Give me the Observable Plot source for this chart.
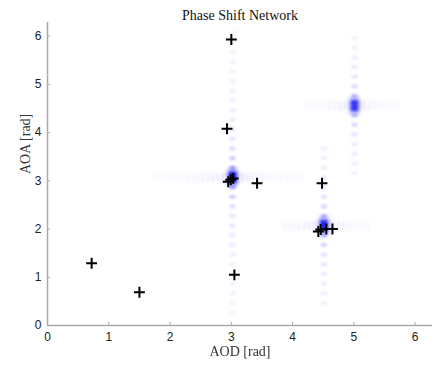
<!DOCTYPE html>
<html>
<head>
<meta charset="utf-8">
<script src="https://cdn.jsdelivr.net/npm/d3@7"></script>
<script src="https://cdn.jsdelivr.net/npm/@observablehq/plot@0.6"></script>
<style>
  html, body { margin: 0; padding: 0; background: #fff; }
  #chart { width: 434px; height: 365px; }
</style>
</head>
<body>
<div id="chart"></div>
<script>
// ---- data ----
const title = "Phase Shift Network";
const xLabel = "AOD [rad]";
const yLabel = "AOA [rad]";
const axisMax = 6.2832;
const xTicks = [0, 1, 2, 3, 4, 5, 6];
const yTicks = [0, 1, 2, 3, 4, 5, 6];

// estimated path markers (+)
const markerAOD = [3.00, 2.93, 2.95, 2.99, 3.03, 3.42, 4.48, 4.42, 4.46, 4.55, 4.65, 0.72, 1.50, 3.05];
const markerAOA = [5.93, 4.08, 2.98, 3.02, 3.05, 2.95, 2.95, 1.95, 1.99, 2.00, 2.00, 1.29, 0.69, 1.05];

// spectrum peaks (heat map main lobes)
const peakAOD = [3.02, 4.51, 5.01];
const peakAOA = [3.07, 2.07, 4.56];
const peakGain = [1.0, 0.85, 0.75];
// visible extent of the side-lobe streaks of each peak
const streakAODmin = [1.50, 3.85, 4.20];
const streakAODmax = [4.15, 5.25, 5.80];
const streakAOAmin = [0.10, 0.30, 3.00];
const streakAOAmax = [6.25, 3.85, 6.10];
// side lobes along AOA (offset from peak, relative level)
const lobeOffsetAOA = [0.20, 0.40, 0.60, 0.80, 1.00, 1.20, 1.40, 1.60, 1.80, 2.00, 2.20, 2.40, 2.60, 2.80, 3.00, 3.20];
const lobeLevelAOA  = [0.45, 0.27, 0.19, 0.15, 0.13, 0.11, 0.10, 0.095, 0.09, 0.085, 0.08, 0.07, 0.065, 0.06, 0.055, 0.05];
// side lobes along AOD
const lobeOffsetAOD = [0.08, 0.16, 0.24, 0.32, 0.40, 0.48, 0.56, 0.64, 0.72, 0.80, 0.88, 0.96, 1.04, 1.12, 1.20, 1.28];
const lobeLevelAOD  = [0.28, 0.20, 0.15, 0.12, 0.10, 0.09, 0.08, 0.075, 0.07, 0.065, 0.06, 0.055, 0.05, 0.045, 0.04, 0.035];

// ---- tables built from the arrays ----
const markers = markerAOD.map((x, i) => ({x, y: markerAOA[i]}));
const peaks = peakAOD.map((x, i) => ({x, y: peakAOA[i], g: peakGain[i]}));
const vLobes = [], hLobes = [];
peaks.forEach((p, i) => {
  lobeOffsetAOA.forEach((o, j) => {
    for (const s of [-1, 1]) {
      const y = p.y + s * o;
      if (y >= streakAOAmin[i] && y <= streakAOAmax[i]) vLobes.push({x: p.x, y, level: lobeLevelAOA[j] * p.g});
    }
  });
  lobeOffsetAOD.forEach((o, j) => {
    for (const s of [-1, 1]) {
      const x = p.x + s * o;
      if (x >= streakAODmin[i] && x <= streakAODmax[i]) hLobes.push({x, y: p.y, level: lobeLevelAOD[j] * p.g});
    }
  });
});

// ---- symbols ----
const vLobeSym = {draw(c) { c.rect(-2.8, -1.7, 5.6, 3.4); }};
const hLobeSym = {draw(c) { c.rect(-0.9, -4.5, 1.8, 9); }};
const haloSym  = {draw(c) { c.rect(-5, -8, 10, 16); }};
const coreSym  = {draw(c) { c.rect(-3.5, -5.5, 7, 11); }};

const serif = "'Liberation Serif', 'DejaVu Serif', serif";
const sans = "'Liberation Sans', Arial, sans-serif";
const blue = "#2020ff";

const chart = Plot.plot({
  width: 434,
  height: 365,
  marginTop: 22,
  marginRight: 2,
  marginBottom: 40,
  marginLeft: 47,
  style: {background: "#fff"},
  x: {domain: [0, axisMax]},
  y: {domain: [0, axisMax]},
  marks: [
    Plot.dot(hLobes, {x: "x", y: "y", symbol: hLobeSym, fill: blue, fillOpacity: "level", stroke: null, imageFilter: "blur(0.9px)"}),
    Plot.dot(vLobes, {x: "x", y: "y", symbol: vLobeSym, fill: blue, fillOpacity: "level", stroke: null, imageFilter: "blur(0.9px)"}),
    Plot.dot(peaks, {x: "x", y: "y", symbol: haloSym, fill: blue, fillOpacity: d => 0.5 * d.g, stroke: null, imageFilter: "blur(2px)"}),
    Plot.dot(peaks, {x: "x", y: "y", symbol: coreSym, fill: "#1010f0", fillOpacity: d => d.g, stroke: null, imageFilter: "blur(1.3px)"}),
    Plot.ruleX([0], {stroke: "#aaaaaa", strokeWidth: 1.5}),
    Plot.ruleY([0], {stroke: "#aaaaaa", strokeWidth: 1.5}),
    Plot.axisX(xTicks, {tickSize: -3, tickPadding: 10, stroke: "#aaaaaa", fill: "#222", fontSize: 12, fontFamily: sans, label: null}),
    Plot.axisY(yTicks, {tickSize: -3, tickPadding: 9, stroke: "#aaaaaa", fill: "#222", fontSize: 12, fontFamily: sans, label: null}),
    Plot.dot(markers, {x: "x", y: "y", symbol: "plus", r: 3.6, stroke: "#000", strokeWidth: 2}),
    Plot.text([title], {frameAnchor: "top", dy: -12, fontFamily: serif, fontSize: 14, fill: "#111"}),
    Plot.text([xLabel], {frameAnchor: "bottom", dy: 30, fontFamily: serif, fontSize: 14, fill: "#333"}),
    Plot.text([yLabel], {frameAnchor: "left", dx: -22, rotate: -90, fontFamily: serif, fontSize: 14, fill: "#333"})
  ]
});
document.getElementById("chart").appendChild(chart);
</script>
</body>
</html>
